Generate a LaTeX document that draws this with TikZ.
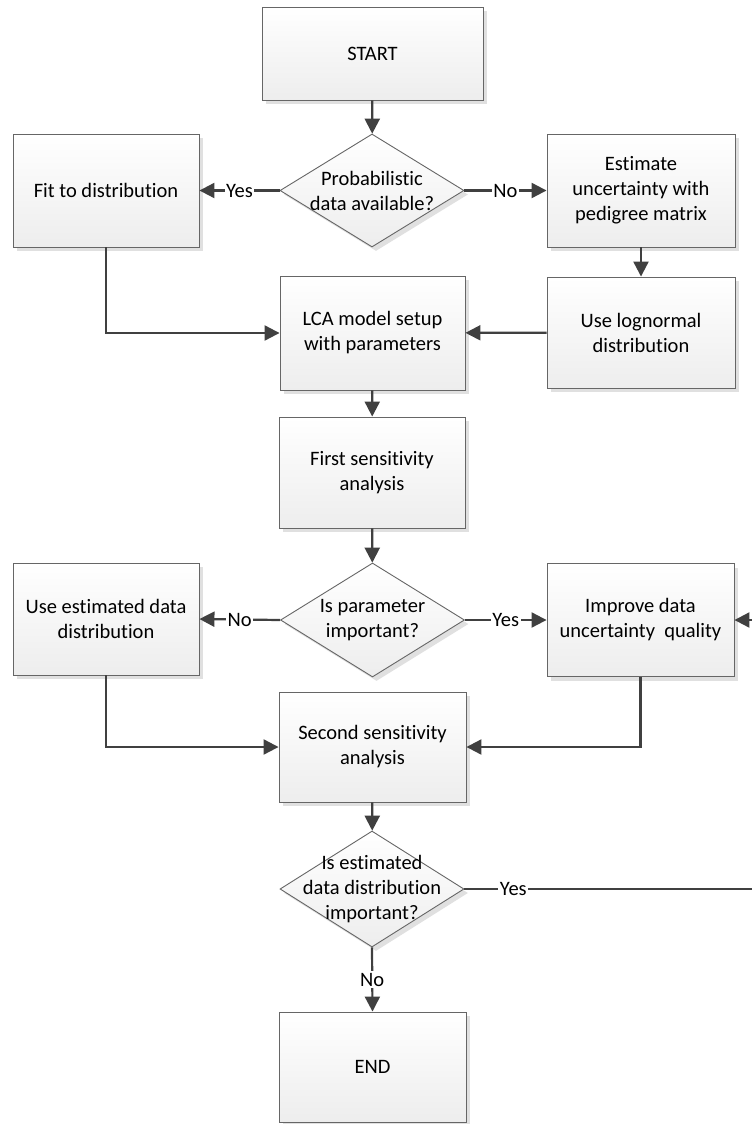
\documentclass[tikz,border=0pt]{standalone}
\usepackage{fontspec}
\setmainfont{Carlito}[Ligatures={NoCommon}]
\usetikzlibrary{shapes.geometric,arrows.meta,shadows}
\definecolor{conn}{HTML}{404040}
\definecolor{boxline}{HTML}{666666}
\tikzset{
  base/.style={draw=boxline, line width=0.9pt, top color=white, bottom color=black!7,
    drop shadow={shadow xshift=4pt, shadow yshift=-4pt, fill=black!12, opacity=1},
    inner sep=0pt, font=\fontsize{20.5}{25}\selectfont, align=center},
  procbox/.style={base, rectangle},
  decbox/.style={base, diamond},
  txt/.style={inner sep=0pt, font=\fontsize{20.5}{25}\selectfont, align=center},
  conn/.style={draw=conn, line width=2.2pt, -{Triangle[length=15pt,width=15pt]}},
  lbl/.style={fill=white, inner sep=1.5pt, font=\fontsize{20.5}{25}\selectfont}
}
\begin{document}
\begin{tikzpicture}[x=1pt,y=-1pt]
\useasboundingbox (0,0) rectangle (752,1124);
\clip (0,0) rectangle (752,1124);
\fill[white] (0,0) rectangle (752,1124);
% process boxes
\node[procbox, minimum width=221pt, minimum height=93pt] (start) at (372.5,53.5) {START};
\node[procbox, minimum width=186pt, minimum height=113pt] (fit) at (106,190.5) {Fit to distribution};
\node[procbox, minimum width=188pt, minimum height=113pt] (est) at (641,190.5) {Estimate\\uncertainty with\\pedigree matrix};
\node[procbox, minimum width=185pt, minimum height=114pt] (lca) at (372.5,333) {LCA model setup\\with parameters};
\node[procbox, minimum width=188pt, minimum height=111pt] (logn) at (641,332.5) {Use lognormal\\distribution};
\node[procbox, minimum width=186pt, minimum height=111pt] (first) at (372,472.5) {First sensitivity\\analysis};
\node[procbox, minimum width=186pt, minimum height=112pt] (useest) at (106,619) {Use estimated data\\distribution};
\node[procbox, minimum width=187pt, minimum height=113pt] (improve) at (640.5,620) {Improve data\\uncertainty~~quality};
\node[procbox, minimum width=187pt, minimum height=110pt] (second) at (372.5,747) {Second sensitivity\\analysis};
\node[procbox, minimum width=187pt, minimum height=110pt] (end) at (372.5,1067) {END};
% decisions
\node[decbox, minimum width=184pt, minimum height=113pt] (d1) at (372,190.5) {};
\node[txt] (d1t) at (d1) {Probabilistic\\data available?};
\node[decbox, minimum width=184pt, minimum height=114pt] (d2) at (372.5,620) {};
\node[txt] (d2t) at (d2) {Is parameter\\important?};
\node[decbox, minimum width=184pt, minimum height=116pt] (d3) at (372,889) {};
\node[txt] (d3t) at (d3) {Is estimated\\data distribution\\important?};
\coordinate (rc1) at (770,889);
\coordinate (rc2) at (770,620);
% connectors
\draw[conn] (start) -- (d1);
\draw[conn] (d1.west) -- node[lbl] (y1) {Yes} (fit.east);
\draw[conn] (d1.east) -- node[lbl] (n1) {No} (est.west);
\draw[conn] (est) -- (logn);
\draw[conn] (logn) -- (lca);
\draw[conn] (fit.south) |- (lca.west);
\draw[conn] (lca) -- (first);
\draw[conn] (first) -- (d2);
\draw[conn] (d2.west) -- node[lbl] (n2) {No} (useest.east);
\draw[conn] (d2.east) -- node[lbl] (y2) {Yes} (improve.west);
\draw[conn] (useest.south) |- (second.west);
\draw[conn] (improve.south) |- (second.east);
\draw[conn] (second) -- (d3);
\draw[conn] (d3.south) -- node[lbl] (n3) {No} (end.north);
\draw[conn] (d3.east) -- node[lbl, pos=0.16] (y3) {Yes} (rc1) -- (rc2) -- (improve.east);
\end{tikzpicture}
\end{document}
